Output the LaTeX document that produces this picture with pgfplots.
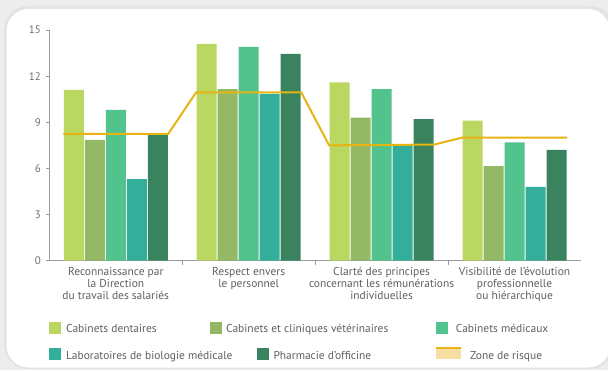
\documentclass[border=0pt]{standalone}
\usepackage{fontspec}
\setmainfont{PT Sans}
\usepackage{pgfplots}
\pgfplotsset{compat=1.18}

\definecolor{dent}{HTML}{B9D761}
\definecolor{veto}{HTML}{93B966}
\definecolor{medi}{HTML}{52C38C}
\definecolor{labo}{HTML}{33AE9A}
\definecolor{phar}{HTML}{3A835F}
\definecolor{risk}{HTML}{E8B414}
\definecolor{riskzone}{HTML}{F8DEA0}
\definecolor{axisgray}{HTML}{9A9A9A}
\definecolor{textgray}{HTML}{606060}
\definecolor{tickgray}{HTML}{707070}

\begin{document}
\begin{tikzpicture}[x=1bp,y=1bp]
\useasboundingbox (0,0) rectangle (608,370);
% card background
\fill[black!7] (0,0) rectangle (608,370);
\fill[black!11, rounded corners=24bp] (4,1) rectangle (614,364);
\fill[white, rounded corners=22bp] (6.5,2.5) rectangle (610,361);

\begin{axis}[
  at={(49.3bp,109.3bp)}, anchor=south west,
  scale only axis, width=531.7bp, height=230.7bp,
  xmin=-0.5, xmax=3.5, ymin=0, ymax=15,
  axis lines=left,
  axis line style={-, draw=axisgray, line width=0.8bp},
  tick align=outside, major tick length=3bp,
  ytick={0,3,...,15},
  ytick style={draw=axisgray, line width=0.8bp},
  xtick={0,1,2,3},
  xtick style={draw=none},
  xticklabels={
    {Reconnaissance par\\la Direction\\du travail des salariés},
    {Respect envers\\le personnel},
    {Clarté des principes\\concernant les rémunérations\\individuelles},
    {Visibilité de l'évolution\\professionnelle\\ou hiérarchique}},
  extra x ticks={0.5,1.5,2.5},
  extra x tick labels={},
  extra x tick style={xtick style={draw=axisgray, line width=0.8bp}, major tick length=4bp},
  /pgf/number format/assume math mode=true,
  yticklabel style={font=\fontsize{11}{13}\selectfont, text=tickgray, xshift=-2bp},
  xticklabel style={align=center, font=\fontsize{11.5}{12.3}\selectfont, text=textgray},
  clip=false,
]
\addplot[ybar, bar width=20bp, bar shift=-42bp, fill=dent, draw=none]
  coordinates {(0,11.1) (1,14.1) (2,11.6) (3,9.1)};
\addplot[ybar, bar width=20bp, bar shift=-21bp, fill=veto, draw=none]
  coordinates {(0,7.85) (1,11.15) (2,9.3) (3,6.15)};
\addplot[ybar, bar width=20bp, bar shift=0bp, fill=medi, draw=none]
  coordinates {(0,9.8) (1,13.9) (2,11.15) (3,7.7)};
\addplot[ybar, bar width=20bp, bar shift=21bp, fill=labo, draw=none]
  coordinates {(0,5.3) (1,10.85) (2,7.5) (3,4.8)};
\addplot[ybar, bar width=20bp, bar shift=42bp, fill=phar, draw=none]
  coordinates {(0,8.2) (1,13.45) (2,9.2) (3,7.2)};
% risk threshold
\addplot[risk, line width=2bp, sharp plot, mark=none]
  coordinates {(-0.395,8.25) (0.395,8.25) (0.605,10.95) (1.395,10.95)
               (1.605,7.5) (2.395,7.55) (2.605,8.0) (3.395,8.0)};
\end{axis}

% legend
\begin{scope}[every node/.style={anchor=base west, inner sep=0pt, text=textgray,
    font=\fontsize{11.5}{12.3}\selectfont}]
\fill[dent] (49,36) rectangle (61,48);
\node at (66,37.5) {Cabinets dentaires};
\fill[veto] (210,36) rectangle (222,48);
\node at (226,37.5) {Cabinets et cliniques vétérinaires};
\fill[medi] (436,36) rectangle (448,48);
\node at (455.7,37.5) {Cabinets médicaux};
\fill[labo] (49,10.5) rectangle (61,22.5);
\node at (66,10.3) {Laboratoires de biologie médicale};
\fill[phar] (257,10.5) rectangle (269,22.5);
\node at (273.3,10.3) {Pharmacie d'officine};
\fill[riskzone] (436,11) rectangle (461,22.3);
\draw[risk, line width=2bp] (436,22) -- (461,22);
\node at (470,10.3) {Zone de risque};
\end{scope}
\end{tikzpicture}
\end{document}
